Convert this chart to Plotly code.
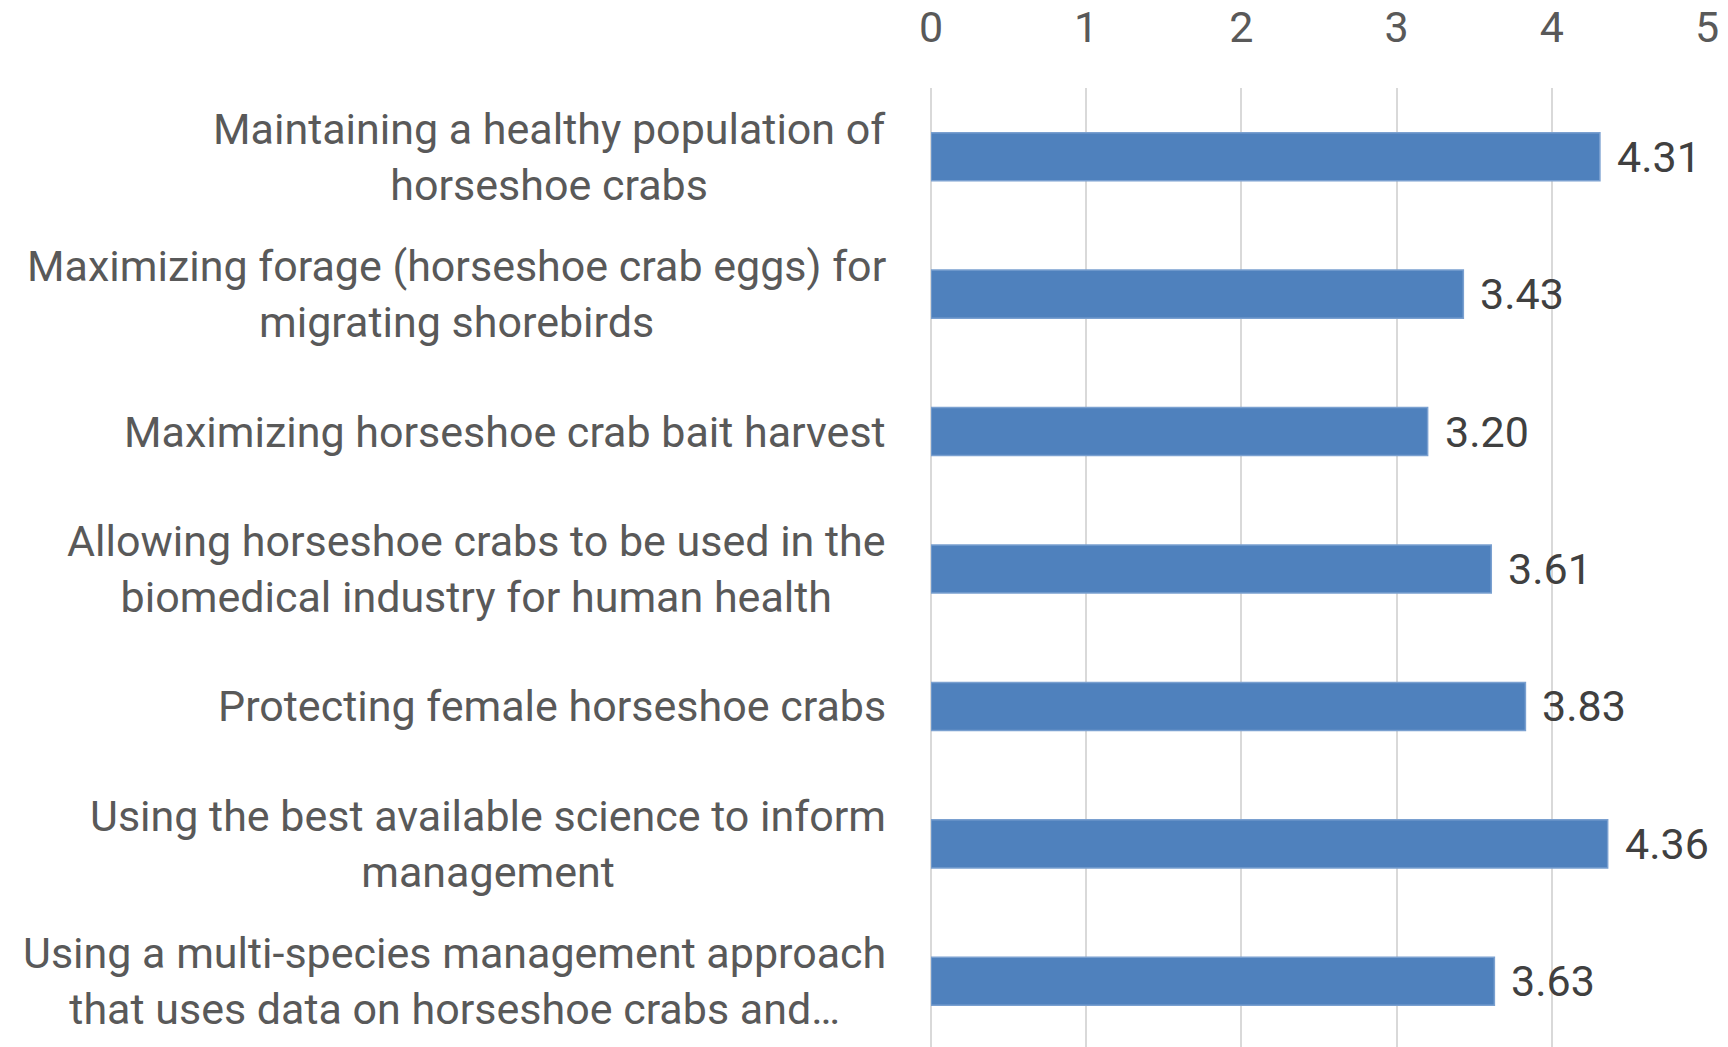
# horizontal bar chart: mean importance of management objectives
import plotly.graph_objects as go

# categories (top to bottom) and mean scores
objectives = [
    "Maintaining a healthy population of<br>horseshoe crabs",
    "Maximizing forage (horseshoe crab eggs) for<br>migrating shorebirds",
    "Maximizing horseshoe crab bait harvest",
    "Allowing horseshoe crabs to be used in the<br>biomedical industry for human health",
    "Protecting female horseshoe crabs",
    "Using the best available science to inform<br>management",
    "Using a multi-species management approach<br>that uses data on horseshoe crabs and…",
]
scores = [4.31, 3.43, 3.20, 3.61, 3.83, 4.36, 3.63]
x_ticks = [0, 1, 2, 3, 4, 5]

FONT = "Roboto, 'Open Sans', sans-serif"

fig = go.Figure()
fig.add_trace(go.Bar(
    x=scores,
    y=objectives,
    orientation="h",
    marker=dict(color="#4f81bd", line=dict(color="#7aa0d0", width=1.5)),
    hoverinfo="x+y",
))

# category labels as centred text blocks to the left of the plot
for obj in objectives:
    fig.add_annotation(
        x=0, xref="paper", y=obj, yref="y",
        text=obj, showarrow=False,
        xanchor="right", align="center", xshift=-43,
        font=dict(family=FONT, size=43, color="#595959"),
    )

# value labels at the end of each bar
for obj, val in zip(objectives, scores):
    fig.add_annotation(
        x=val, y=obj, text="{:.2f}".format(val), showarrow=False,
        xanchor="left", xshift=15,
        font=dict(family=FONT, size=43, color="#404040"),
    )

fig.update_layout(
    width=1728, height=1047,
    margin=dict(l=923, r=29, t=80, b=5, autoexpand=False),
    paper_bgcolor="white", plot_bgcolor="white",
    bargap=0.65,
    showlegend=False,
    font=dict(family=FONT, color="#595959"),
)
fig.update_xaxes(
    side="top", range=[0, 5], tickvals=x_ticks, automargin=False,
    showgrid=True, gridcolor="#d9d9d9", gridwidth=1.5,
    zeroline=True, zerolinecolor="#d9d9d9", zerolinewidth=1.5,
    showline=False, ticks="", ticklabelstandoff=36,
    tickfont=dict(family=FONT, size=43, color="#595959"),
)
fig.update_yaxes(
    autorange=False, range=[6.5, -0.5], automargin=False,
    showticklabels=False, showgrid=False, zeroline=False, ticks="",
)

fig.write_html("out.html")
